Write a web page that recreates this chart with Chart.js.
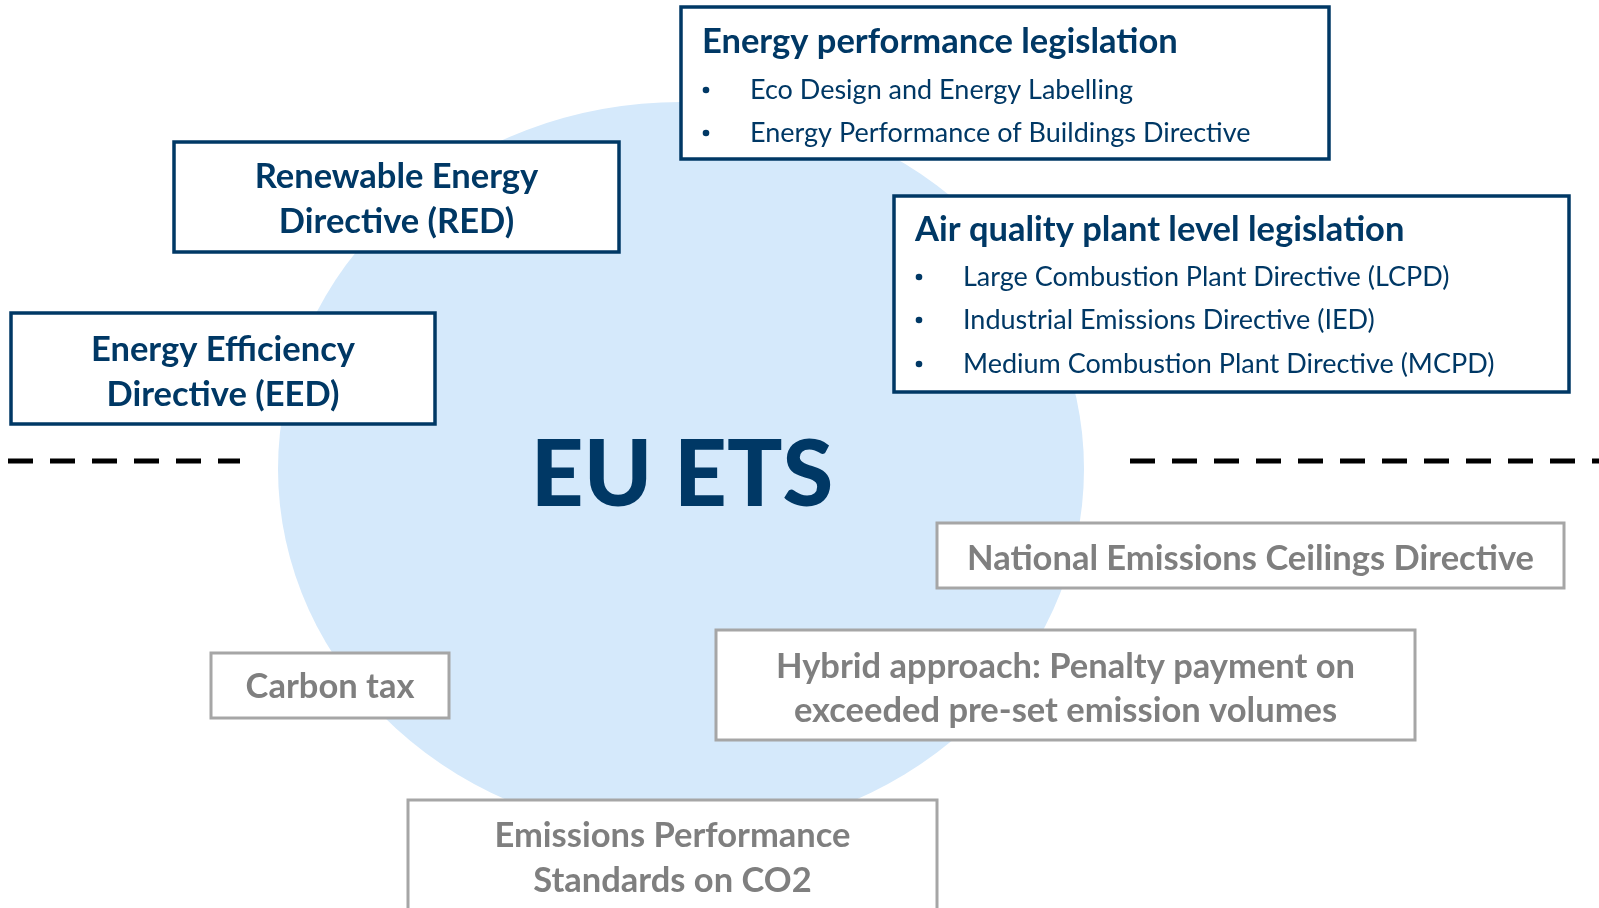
<!DOCTYPE html>
<html>
<head>
<meta charset="utf-8">
<script src="https://cdn.jsdelivr.net/npm/chart.js@4"></script>
<style>
  html, body { margin: 0; padding: 0; background: #fff; }
  #wrap { width: 1599px; height: 908px; }
</style>
</head>
<body>
<div id="wrap"><canvas id="chartPolicy"></canvas></div>
<script>
// ── EU ETS POLICY LANDSCAPE ─────────
// all positions in chart units (x 0..1599, y 0..908 top-down)

const etsLabel   = 'EU ETS';
const etsArea    = [681, 469, 403, 367];          // centre x, centre y, radius x, radius y
const dashLeft   = [[8, 461], [240, 461]];
const dashRight  = [[1130, 461], [1599, 461]];

// boxes with a heading and bullet points (dark blue)
const listTitles  = ['Energy performance legislation', 'Air quality plant level legislation'];
const listBullets = [
  ['Eco Design and Energy Labelling', 'Energy Performance of Buildings Directive'],
  ['Large Combustion Plant Directive (LCPD)', 'Industrial Emissions Directive (IED)', 'Medium Combustion Plant Directive (MCPD)']
];
const listRects   = [[681, 7, 1329, 159], [894, 196, 1569, 392]];
const listTitleY  = [42, 230];
const listLineY   = [[90, 133], [277, 320, 364]];

// centred boxes, dark blue = EU level, grey = other instruments
const boxLabels = [
  ['Renewable Energy', 'Directive (RED)'],
  ['Energy Efficiency', 'Directive (EED)'],
  ['National Emissions Ceilings Directive'],
  ['Hybrid approach: Penalty payment on', 'exceeded pre-set emission volumes'],
  ['Carbon tax'],
  ['Emissions Performance', 'Standards on CO2']
];
const boxRects = [
  [174, 142, 619, 252],
  [11, 313, 435, 424],
  [937, 523, 1564, 588],
  [716, 630, 1415, 740],
  [211, 653, 449, 718],
  [408, 800, 937, 930]
];
const boxLineY = [[177, 222], [350, 395], [559], [667, 711], [687], [836, 881]];
const boxGrey  = [false, false, true, true, true, true];

const NAVY = '#003865';
const GREY_TXT = '#7f7f7f';
const GREY_BRD = '#a6a6a6';
const FONT = 'Lato, "Open Sans", sans-serif';

const diagramPlugin = {
  id: 'diagram',
  beforeDatasetsDraw(chart) {
    const { ctx: c, scales: { x, y } } = chart;
    const [cx, cy, rx, ry] = etsArea;
    const px = x.getPixelForValue(cx), py = y.getPixelForValue(cy);
    const prx = x.getPixelForValue(cx + rx) - px;
    const pry = y.getPixelForValue(cy + ry) - py;
    c.save();
    c.fillStyle = '#d5e9fb';
    c.beginPath();
    c.ellipse(px, py, Math.abs(prx), Math.abs(pry), 0, 0, Math.PI * 2);
    c.fill();
    c.restore();
  },
  afterDatasetsDraw(chart) {
    const { ctx: c, scales: { x, y } } = chart;
    const rect = (r, stroke, lw) => {
      const x0 = x.getPixelForValue(r[0]), y0 = y.getPixelForValue(r[1]);
      const x1 = x.getPixelForValue(r[2]), y1 = y.getPixelForValue(r[3]);
      c.fillStyle = '#fff';
      c.fillRect(x0, y0, x1 - x0, y1 - y0);
      c.strokeStyle = stroke; c.lineWidth = lw;
      c.strokeRect(x0, y0, x1 - x0, y1 - y0);
      return [x0, y0, x1, y1];
    };
    c.save();
    c.textBaseline = 'middle';

    // list boxes
    listTitles.forEach((t, i) => {
      const [x0] = rect(listRects[i], NAVY, 3.5);
      c.fillStyle = NAVY;
      c.textAlign = 'left';
      c.font = `bold 34.5px ${FONT}`;
      c.fillText(t, x0 + 21, y.getPixelForValue(listTitleY[i]));
      c.font = `27px ${FONT}`;
      listBullets[i].forEach((b, j) => {
        const ly = y.getPixelForValue(listLineY[i][j]);
        c.beginPath();
        c.arc(x0 + 25, ly, 3.3, 0, Math.PI * 2);
        c.fill();
        c.fillText(b, x0 + 69, ly);
      });
    });

    // centred boxes
    boxLabels.forEach((lines, i) => {
      const grey = boxGrey[i];
      const [x0, , x1] = rect(boxRects[i], grey ? GREY_BRD : NAVY, grey ? 3 : 3.5);
      c.fillStyle = grey ? GREY_TXT : NAVY;
      c.textAlign = 'center';
      c.font = `bold 34.5px ${FONT}`;
      lines.forEach((l, j) => c.fillText(l, (x0 + x1) / 2, y.getPixelForValue(boxLineY[i][j])));
    });

    // EU ETS label
    c.fillStyle = NAVY;
    c.textAlign = 'center';
    c.font = `900 92px ${FONT}`;
    c.fillText(etsLabel, x.getPixelForValue(etsArea[0] + 1), y.getPixelForValue(etsArea[1] + 7));
    c.restore();
  }
};

const toPts = arr => arr.map(([px, py]) => ({ x: px, y: py }));
const dashStyle = {
  showLine: true, borderColor: '#000', borderWidth: 5,
  borderDash: [25, 17], pointRadius: 0, fill: false, clip: false
};

new Chart(document.getElementById('chartPolicy'), {
  type: 'scatter',
  data: {
    datasets: [
      { label: 'left', data: toPts(dashLeft), ...dashStyle },
      { label: 'right', data: toPts(dashRight), ...dashStyle }
    ]
  },
  options: {
    responsive: true, maintainAspectRatio: false, animation: false,
    layout: { padding: 0 },
    plugins: { legend: { display: false }, tooltip: { enabled: false } },
    scales: {
      x: { type: 'linear', min: 0, max: 1599, display: false },
      y: { type: 'linear', min: 0, max: 908, reverse: true, display: false }
    }
  },
  plugins: [diagramPlugin]
});
</script>
</body>
</html>
